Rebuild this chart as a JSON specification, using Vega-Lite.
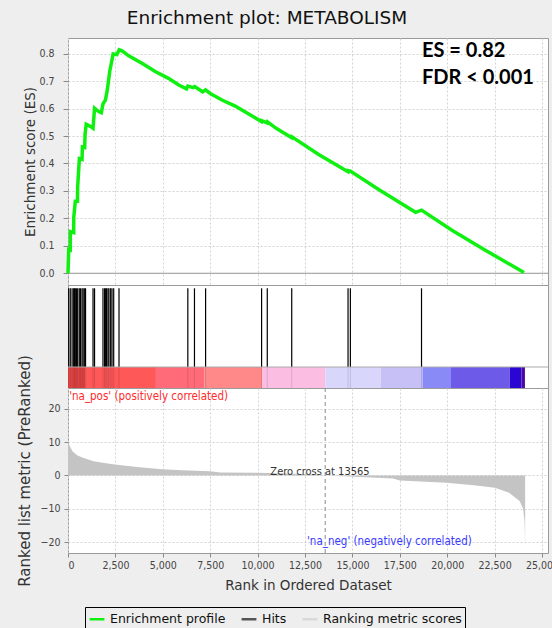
{
  "$schema": "https://vega.github.io/schema/vega-lite/v6.json",
  "background": "#eeeeee",
  "padding": {"left": 16, "top": 8, "right": 0, "bottom": 0},
  "spacing": 0,
  "bounds": "flush",
  "datasets": {
    "es": [
      {"rank": 0, "es": 0}, {"rank": 40, "es": 0.087}, {"rank": 120, "es": 0.085}, {"rank": 125, "es": 0.152},
      {"rank": 300, "es": 0.148}, {"rank": 305, "es": 0.205}, {"rank": 385, "es": 0.262}, {"rank": 500, "es": 0.262},
      {"rank": 510, "es": 0.315}, {"rank": 600, "es": 0.418}, {"rank": 740, "es": 0.415}, {"rank": 760, "es": 0.46},
      {"rank": 880, "es": 0.458}, {"rank": 900, "es": 0.506}, {"rank": 960, "es": 0.543}, {"rank": 1180, "es": 0.535},
      {"rank": 1320, "es": 0.528}, {"rank": 1400, "es": 0.601}, {"rank": 1600, "es": 0.59}, {"rank": 1760, "es": 0.585},
      {"rank": 1845, "es": 0.617}, {"rank": 1970, "es": 0.63}, {"rank": 2074, "es": 0.668}, {"rank": 2200, "es": 0.735},
      {"rank": 2320, "es": 0.777}, {"rank": 2380, "es": 0.799}, {"rank": 2580, "es": 0.797}, {"rank": 2700, "es": 0.814},
      {"rank": 2850, "es": 0.81}, {"rank": 3200, "es": 0.792}, {"rank": 3900, "es": 0.765}, {"rank": 4600, "es": 0.735},
      {"rank": 5300, "es": 0.71}, {"rank": 5840, "es": 0.686}, {"rank": 6250, "es": 0.672}, {"rank": 6320, "es": 0.682},
      {"rank": 6600, "es": 0.676}, {"rank": 6680, "es": 0.68}, {"rank": 7100, "es": 0.661}, {"rank": 7257, "es": 0.668},
      {"rank": 7500, "es": 0.655}, {"rank": 8120, "es": 0.631}, {"rank": 8820, "es": 0.609}, {"rank": 9530, "es": 0.58},
      {"rank": 10200, "es": 0.553}, {"rank": 10210, "es": 0.556}, {"rank": 10500, "es": 0.548}, {"rank": 10520, "es": 0.552},
      {"rank": 11000, "es": 0.527}, {"rank": 11800, "es": 0.494}, {"rank": 11810, "es": 0.497}, {"rank": 13220, "es": 0.433},
      {"rank": 14770, "es": 0.37}, {"rank": 14780, "es": 0.374}, {"rank": 14893, "es": 0.372}, {"rank": 16385, "es": 0.305},
      {"rank": 18330, "es": 0.222}, {"rank": 18645, "es": 0.23}, {"rank": 20250, "es": 0.157}, {"rank": 22010, "es": 0.084},
      {"rank": 24050, "es": 0.003}
    ],
    "hits": [
      {"rank": 35}, {"rank": 120}, {"rank": 216}, {"rank": 300}, {"rank": 338}, {"rank": 385}, {"rank": 445}, {"rank": 510},
      {"rank": 595}, {"rank": 660}, {"rank": 740}, {"rank": 800}, {"rank": 880}, {"rank": 925}, {"rank": 1320}, {"rank": 1400},
      {"rank": 1845}, {"rank": 1930}, {"rank": 1970}, {"rank": 2036}, {"rank": 2110}, {"rank": 2160}, {"rank": 2250}, {"rank": 2320},
      {"rank": 2410}, {"rank": 2690}, {"rank": 6320}, {"rank": 6670}, {"rank": 7257}, {"rank": 10210}, {"rank": 10510},
      {"rank": 11800}, {"rank": 14770}, {"rank": 14893}, {"rank": 18645}
    ],
    "bar": [
      {"start": 0, "end": 900, "c": "#e84545"},
      {"start": 900, "end": 4637, "c": "#ff5858"},
      {"start": 4637, "end": 7203, "c": "#ff6b78"},
      {"start": 7203, "end": 10245, "c": "#ff8888"},
      {"start": 10245, "end": 13570, "c": "#fcbde3"},
      {"start": 13570, "end": 16489, "c": "#d8d6fb"},
      {"start": 16489, "end": 18697, "c": "#c6c0f7"},
      {"start": 18697, "end": 20200, "c": "#8a8af7"},
      {"start": 20200, "end": 23296, "c": "#6e5ae9"},
      {"start": 23296, "end": 23917, "c": "#2a06d2"},
      {"start": 23917, "end": 24100, "c": "#4b0aa5"}
    ],
    "metric": [
      {"rank": 0, "score": 10}, {"rank": 100, "score": 8.8}, {"rank": 234, "score": 7.3}, {"rank": 500, "score": 6.0},
      {"rank": 791, "score": 5.3}, {"rank": 1348, "score": 4.3}, {"rank": 2000, "score": 3.7}, {"rank": 2462, "score": 3.3},
      {"rank": 3762, "score": 2.5}, {"rank": 4969, "score": 1.9}, {"rank": 6000, "score": 1.6}, {"rank": 7495, "score": 1.3},
      {"rank": 8034, "score": 0.9}, {"rank": 10002, "score": 0.8}, {"rank": 12000, "score": 0.5}, {"rank": 13233, "score": 0.3},
      {"rank": 13565, "score": 0}, {"rank": 15090, "score": -0.4}, {"rank": 17133, "score": -0.9}, {"rank": 17504, "score": -1.5},
      {"rank": 19956, "score": -2.2}, {"rank": 21404, "score": -2.9}, {"rank": 22519, "score": -3.7}, {"rank": 23262, "score": -5.2},
      {"rank": 23819, "score": -7.7}, {"rank": 24005, "score": -10}, {"rank": 24080, "score": -14}, {"rank": 24110, "score": -21.5}
    ],
    "one": [{}]
  },
  "vconcat": [
    {
      "width": 480,
      "height": 247,
      "title": {"text": "Enrichment plot: METABOLISM", "font": "DejaVu Sans", "fontSize": 18.5, "fontWeight": "normal", "color": "#111111", "anchor": "middle", "frame": "group", "dx": -41, "offset": 11},
      "layer": [
        {
          "data": {"name": "es"},
          "mark": {"type": "line", "strokeWidth": 3.5, "opacity": 0},
          "encoding": {
            "x": {"field": "rank", "type": "quantitative", "scale": {"domain": [0, 25316], "nice": false, "zero": false},
                  "axis": {"values": [0, 2500, 5000, 7500, 10000, 12500, 15000, 17500, 20000, 22500, 25000], "labels": false, "ticks": false, "title": null, "grid": true}},
            "y": {"field": "es", "type": "quantitative", "scale": {"domain": [-0.0427, 0.857], "nice": false, "zero": false},
                  "axis": {"values": [0, 0.1, 0.2, 0.3, 0.4, 0.5, 0.6, 0.7, 0.8], "tickCount": 9, "format": ".1f", "title": "Enrichment score (ES)", "tickSize": 5, "labelPadding": 9, "titlePadding": 1, "grid": true, "labelOverlap": false}},
            "color": {"datum": "Enrichment profile", "type": "nominal",
                      "scale": {"domain": ["Enrichment profile", "Hits", "Ranking metric scores"], "range": ["#10f010", "#555555", "#d8d8d8"]},
                      "legend": {"orient": "none", "legendX": 17, "legendY": 569, "direction": "horizontal", "title": null, "symbolType": "stroke", "strokeColor": "#000000", "padding": 3, "labelFontSize": 12.5, "labelFont": "DejaVu Sans", "labelColor": "#111111", "symbolSize": 220, "symbolStrokeWidth": 2.5, "columnPadding": 10, "symbolOpacity": 1}}
          }
        },
        {
          "data": {"name": "one"},
          "mark": {"type": "rule", "color": "#999999", "strokeWidth": 1},
          "encoding": {"y": {"datum": 0, "type": "quantitative",
                  "axis": {"values": [0, 0.1, 0.2, 0.3, 0.4, 0.5, 0.6, 0.7, 0.8], "tickCount": 9, "format": ".1f", "title": "Enrichment score (ES)", "tickSize": 5, "labelPadding": 9, "titlePadding": 1, "grid": true, "labelOverlap": false}}}
        },
        {
          "data": {"name": "es"},
          "mark": {"type": "line", "strokeWidth": 3.5, "color": "#10f010"},
          "encoding": {"x": {"field": "rank", "type": "quantitative",
                  "axis": {"values": [0, 2500, 5000, 7500, 10000, 12500, 15000, 17500, 20000, 22500, 25000], "labels": false, "ticks": false, "title": null, "grid": true}},
                       "y": {"field": "es", "type": "quantitative",
                  "axis": {"values": [0, 0.1, 0.2, 0.3, 0.4, 0.5, 0.6, 0.7, 0.8], "tickCount": 9, "format": ".1f", "title": "Enrichment score (ES)", "tickSize": 5, "labelPadding": 9, "titlePadding": 1, "grid": true, "labelOverlap": false}}}
        },
        {
          "data": {"name": "one"},
          "mark": {"type": "text", "text": "ES = 0.82", "font": "Lato", "fontWeight": "bold", "fontSize": 20, "align": "left", "baseline": "middle", "color": "#000000"},
          "encoding": {"x": {"datum": 18670, "type": "quantitative"}, "y": {"datum": 0.81, "type": "quantitative"}}
        },
        {
          "data": {"name": "one"},
          "mark": {"type": "text", "text": "FDR < 0.001", "font": "Lato", "fontWeight": "bold", "fontSize": 20, "align": "left", "baseline": "middle", "color": "#000000"},
          "encoding": {"x": {"datum": 18670, "type": "quantitative"}, "y": {"datum": 0.71, "type": "quantitative"}}
        }
      ]
    },
    {
      "width": 480,
      "height": 103,
      "layer": [
        {
          "data": {"name": "bar"},
          "mark": {"type": "rect"},
          "encoding": {
            "x": {"field": "start", "type": "quantitative", "scale": {"domain": [0, 25316], "nice": false, "zero": false}, "axis": null},
            "x2": {"field": "end"},
            "y": {"datum": 0, "type": "quantitative", "scale": {"domain": [0, 103], "nice": false}, "axis": null},
            "y2": {"datum": 21},
            "color": {"field": "c", "type": "nominal", "scale": null, "legend": null}
          }
        },
        {
          "data": {"name": "hits"},
          "mark": {"type": "rule", "color": "#000000", "strokeWidth": 1.2},
          "encoding": {"x": {"field": "rank", "type": "quantitative"}, "y": {"datum": 21}, "y2": {"datum": 99.7}}
        },
        {
          "data": {"name": "hits"},
          "mark": {"type": "rule", "color": "#000000", "strokeWidth": 1, "opacity": 0.12},
          "encoding": {"x": {"field": "rank", "type": "quantitative"}, "y": {"datum": 0}, "y2": {"datum": 21}}
        },
        {
          "data": {"name": "one"},
          "mark": {"type": "rule", "color": "#aaaaaa", "strokeWidth": 1},
          "encoding": {"y": {"datum": 21}}
        }
      ]
    },
    {
      "width": 480,
      "height": 165,
      "layer": [
        {
          "data": {"name": "metric"},
          "mark": {"type": "area", "color": "#c4c4c4"},
          "encoding": {
            "x": {"field": "rank", "type": "quantitative", "scale": {"domain": [0, 25316], "nice": false, "zero": false},
                  "axis": {"values": [0, 2500, 5000, 7500, 10000, 12500, 15000, 17500, 20000, 22500, 25000], "format": ",d", "title": "Rank in Ordered Dataset", "tickSize": 4, "labelPadding": 3, "titlePadding": 8, "grid": true, "labelOverlap": false}},
            "y": {"field": "score", "type": "quantitative", "scale": {"domain": [-23.3, 26.3], "nice": false},
                  "axis": {"values": [-20, -10, 0, 10, 20], "title": "Ranked list metric (PreRanked)", "titleFontSize": 15, "tickSize": 4, "labelPadding": 4, "titlePadding": 8, "grid": true, "labelOverlap": false}}
          }
        },
        {
          "data": {"name": "one"},
          "mark": {"type": "rule", "color": "#8a8a8a", "strokeDash": [4, 3], "strokeWidth": 1},
          "encoding": {"x": {"datum": 13565}}
        },
        {
          "data": {"name": "one"},
          "mark": {"type": "text", "text": "'na_pos' (positively correlated)", "font": "DejaVu Sans Condensed, DejaVu Sans", "fontSize": 11.5, "align": "left", "baseline": "middle", "color": "#ff2a2a"},
          "encoding": {"x": {"datum": 60}, "y": {"datum": 23.6}}
        },
        {
          "data": {"name": "one"},
          "mark": {"type": "text", "text": "'na_neg' (negatively correlated)", "font": "DejaVu Sans Condensed, DejaVu Sans", "fontSize": 11.5, "align": "left", "baseline": "middle", "color": "#3a3aff"},
          "encoding": {"x": {"datum": 12605}, "y": {"datum": -20}}
        },
        {
          "data": {"name": "one"},
          "mark": {"type": "text", "text": "Zero cross at 13565", "font": "DejaVu Sans Condensed, DejaVu Sans", "fontSize": 11, "align": "center", "baseline": "middle", "color": "#333333"},
          "encoding": {"x": {"datum": 13290}, "y": {"datum": 1.1}}
        }
      ]
    }
  ],
  "resolve": {"scale": {"x": "independent"}},
  "config": {
    "view": {"stroke": "#9a9a9a", "fill": "#ffffff"},
    "axis": {
      "domain": false,
      "gridDash": [2, 2],
      "gridColor": "#d2d2d2",
      "tickColor": "#888888",
      "labelFont": "DejaVu Sans Condensed, DejaVu Sans",
      "labelFontSize": 10.5,
      "labelColor": "#444444",
      "titleFont": "DejaVu Sans",
      "titleFontWeight": "normal",
      "titleFontSize": 13.5,
      "titleColor": "#333333"
    }
  }
}
